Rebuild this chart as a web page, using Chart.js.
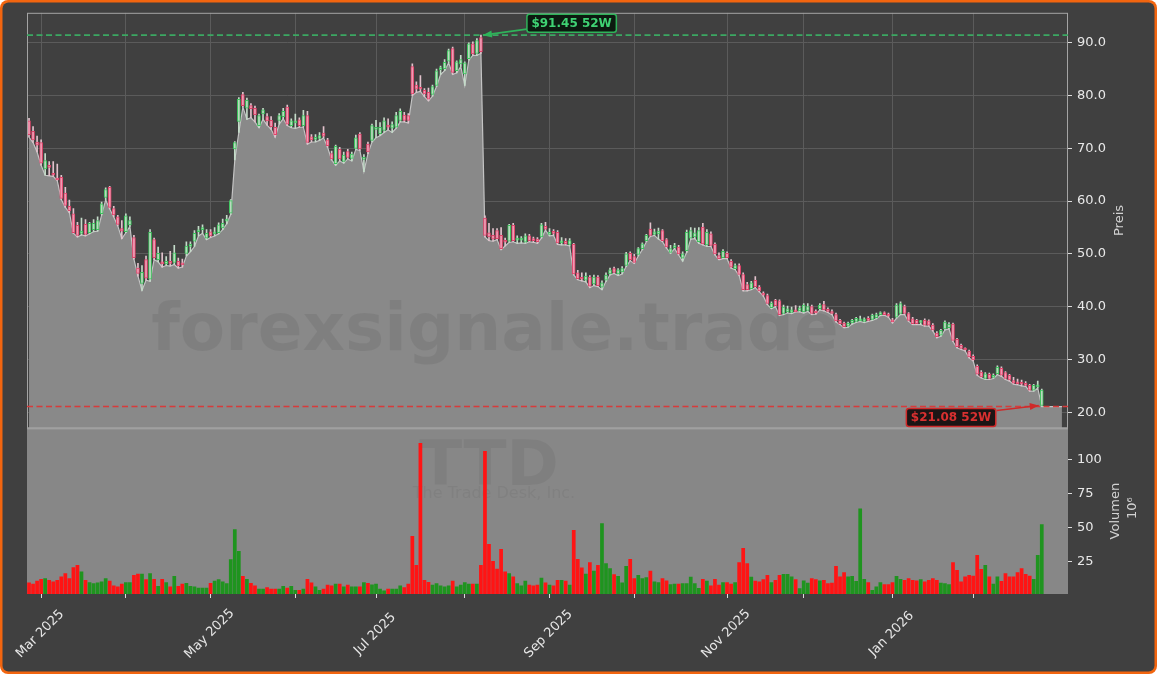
<!DOCTYPE html>
<html>
<head>
<meta charset="utf-8">
<script src="https://cdn.jsdelivr.net/npm/chart.js@4.4.1/dist/chart.umd.min.js"></script>
<style>
  html, body { margin: 0; padding: 0; background: #ffffff; }
  canvas { display: block; }
</style>
</head>
<body>
<canvas id="ttd-chart" width="1157" height="674"></canvas>
<script>
const firstDay = '2025-02-26';
const holidays = ['2025-04-18', '2025-05-26', '2025-06-19', '2025-07-04', '2025-09-01',
  '2025-11-27', '2025-12-25', '2026-01-01', '2026-01-19', '2026-02-16'];
const emptySlots = 6;

const opens = [
  75.2,73.2,71.2,71.1,66.1,66.6,65.2,64.2,64.5,61.5, 59.0,57.6,55.4,53.9,55.6,54.0,54.6,54.6,57.6,60.7,
  62.6,58.6,57.0,54.8,54.2,55.5,53.1,47.3,44.4,48.9, 45.2,52.7,48.9,48.3,48.1,48.5,48.4,48.6,48.3,50.1,
  51.4,52.4,54.2,54.6,53.0,54.2,53.8,54.0,54.9,56.2, 57.7,69.9,75.1,80.2,77.6,78.1,77.6,74.3,76.5,76.0,
  75.3,74.0,75.3,76.0,77.8,74.3,74.8,75.4,74.3,76.2, 72.2,71.7,71.9,72.9,71.6,69.0,67.1,69.8,67.5,69.4,
  68.1,70.0,72.7,67.9,70.8,71.5,73.6,72.8,73.4,74.4, 73.8,74.0,75.3,76.3,76.2,85.5,82.0,81.4,81.0,80.6,
  80.2,81.9,84.9,85.1,86.5,88.9,84.7,86.0,84.1,87.0, 89.8,88.0,91.0,56.8,54.0,53.5,54.4,53.5,52.5,52.4,
  55.4,52.6,52.6,52.2,53.4,52.7,52.8,53.2,55.2,53.7, 54.0,54.1,52.1,52.4,51.8,51.8,46.4,45.5,45.0,45.6,
  44.3,45.6,43.7,45.0,46.2,47.2,46.2,46.6,47.8,50.1, 49.5,49.9,51.0,52.5,54.7,53.7,53.8,54.4,52.7,50.3,
  51.2,51.3,49.2,50.6,53.0,53.2,52.3,55.1,51.7,53.8, 51.8,49.7,49.3,50.1,48.6,47.2,47.8,46.1,44.2,43.4,
  45.0,43.7,42.4,42.1,39.8,41.2,41.1,38.7,39.0,38.9, 39.4,39.2,39.0,39.3,40.0,38.9,39.6,40.4,39.4,39.0,
  38.5,37.4,36.9,36.3,36.9,37.2,37.3,37.2,37.6,37.6, 37.9,38.5,38.7,38.4,37.5,38.0,38.7,40.0,38.7,37.7,
  37.4,37.0,37.4,37.3,36.5,35.0,34.6,35.8,36.0,36.7, 33.8,32.7,31.9,31.6,30.6,28.7,27.6,26.4,27.2,26.6,
  27.3,28.3,27.5,27.0,26.0,25.7,25.5,25.2,25.1,24.2, 24.8,21.3
];
const highs = [
  75.7,74.1,72.3,71.6,69.0,67.5,67.5,67.0,64.9,62.6, 60.2,58.6,56.0,56.8,56.5,56.0,56.5,57.0,59.8,62.5,
  62.8,59.0,57.3,56.3,57.6,57.0,53.5,48.2,47.8,49.6, 54.6,53.0,51.3,50.2,49.5,50.5,51.6,49.2,49.0,52.3,
  52.3,54.4,55.2,55.5,54.6,54.6,55.0,55.9,56.6,57.3, 60.3,71.3,79.6,80.6,79.5,78.5,78.0,76.5,77.6,76.6,
  76.0,74.8,76.6,77.6,78.2,75.6,76.5,75.8,77.2,77.0, 72.6,72.6,73.0,74.1,71.9,69.5,70.6,70.2,69.3,69.8,
  69.3,72.5,73.0,68.8,71.2,74.6,75.3,74.9,75.8,75.6, 75.0,76.8,77.5,76.8,76.6,86.0,82.6,83.8,81.3,81.4,
  82.0,85.0,85.6,86.8,88.8,89.2,86.6,87.6,86.4,90.0, 90.2,90.8,91.45,57.2,55.8,54.8,54.8,55.0,53.0,55.6,
  55.8,53.4,53.3,53.8,53.7,53.2,53.1,55.8,56.0,54.8, 54.6,54.4,53.1,52.9,52.9,52.0,46.9,46.4,46.4,45.9,
  46.0,45.9,44.9,46.4,47.3,47.5,47.2,47.6,50.3,50.4, 49.9,51.2,52.1,53.7,55.9,54.7,54.9,54.6,52.9,51.6,
  52.0,51.6,50.4,54.5,55.0,54.9,55.0,55.8,54.6,54.2, 52.1,50.2,50.8,50.4,48.9,48.1,48.1,46.4,44.6,44.8,
  45.7,44.0,42.8,42.4,40.9,41.4,41.3,40.3,40.1,39.9, 40.2,40.1,40.6,40.6,40.3,39.4,40.6,41.0,39.8,39.4,
  38.8,37.6,37.1,37.1,37.6,38.0,38.2,37.9,38.1,38.6, 38.8,39.0,39.0,38.8,37.8,40.6,40.9,40.3,38.9,38.0,
  37.6,37.4,37.7,37.5,36.8,35.3,35.7,37.3,37.0,36.9, 34.0,32.9,32.2,31.8,30.9,29.0,27.9,27.5,27.4,27.3,
  28.8,28.6,27.7,27.2,26.6,26.3,26.1,25.8,25.3,25.3, 25.9,24.4
];
const lows = [
  72.1,71.1,69.3,66.8,64.9,64.8,64.7,63.9,60.3,58.8, 57.8,53.9,53.2,53.6,53.4,53.8,54.2,54.3,57.4,60.2,
  58.5,57.0,55.3,52.9,54.0,55.2,49.0,45.8,43.1,45.0, 44.8,48.9,48.5,47.5,47.8,47.7,48.0,47.3,47.5,49.6,
  50.4,51.4,53.4,53.9,52.7,53.1,53.4,53.8,54.6,55.7, 57.5,67.8,73.0,77.8,75.5,75.8,75.0,73.9,75.5,74.4,
  73.6,72.1,74.6,75.6,74.3,73.9,73.8,74.0,74.0,70.8, 71.2,71.2,71.5,72.0,70.2,67.8,66.8,67.6,67.2,68.0,
  67.6,69.8,69.6,65.6,69.0,71.2,72.0,72.4,73.0,73.5, 73.0,73.8,75.0,75.0,74.8,80.0,80.6,80.8,79.8,79.0,
  79.9,81.7,84.0,84.7,86.2,84.0,84.3,85.5,81.9,86.7, 87.6,87.6,88.0,53.2,52.5,52.4,52.7,50.8,51.5,52.2,
  52.3,52.0,52.1,52.0,52.3,52.2,52.0,53.0,54.5,53.4, 53.5,51.8,51.7,51.7,51.5,46.0,45.1,44.9,44.7,43.6,
  44.0,43.8,43.2,44.8,46.0,46.3,45.9,46.2,47.6,48.7, 48.2,49.6,50.8,52.3,53.3,53.5,52.8,52.3,51.1,50.1,
  51.0,49.8,48.6,50.3,52.8,52.9,52.0,51.7,51.4,51.4, 49.8,48.9,49.1,49.1,47.3,47.0,45.9,43.0,43.0,43.2,
  43.6,42.8,42.0,40.4,39.6,40.0,38.3,38.5,38.8,38.7, 39.0,39.0,38.8,39.1,38.5,38.6,39.4,39.2,38.9,38.5,
  37.1,36.6,36.0,36.1,36.7,37.0,37.2,37.0,37.2,37.4, 37.7,38.3,38.4,38.0,36.9,37.8,38.5,38.5,37.2,36.6,
  36.6,36.6,36.3,36.3,35.4,34.1,34.4,35.6,35.8,33.4, 32.2,31.9,31.6,30.3,29.7,27.0,26.5,26.2,26.2,26.4,
  27.1,26.8,26.2,25.9,25.3,25.2,25.0,24.9,24.0,24.0, 24.6,21.08
];
const closes = [
  72.6,71.6,70.6,67.2,67.7,66.4,64.9,64.0,60.5,59.2, 58.2,54.0,53.5,54.3,53.7,55.8,55.8,56.3,59.5,62.2,
  58.8,57.4,55.6,54.3,57.2,56.3,49.3,46.3,46.5,45.4, 54.1,49.3,50.1,48.1,48.6,48.2,50.2,47.7,47.9,51.5,
  51.8,53.9,54.5,55.0,53.9,53.4,54.2,55.5,55.8,56.6, 60.1,71.1,79.3,78.1,79.1,77.5,76.4,76.2,77.3,75.2,
  74.1,72.6,76.2,77.0,74.6,75.2,75.2,74.3,76.2,71.1, 71.6,71.9,72.4,72.3,70.5,68.0,70.4,68.0,68.7,68.3,
  68.9,72.0,69.9,68.2,69.3,74.3,74.0,74.0,75.2,74.0, 74.5,76.2,77.0,75.3,75.3,80.3,81.2,81.2,80.3,79.3,
  81.7,84.7,85.2,86.3,88.5,84.4,86.4,86.8,86.2,89.8, 87.9,90.4,88.3,53.5,53.2,52.8,52.9,51.0,52.2,55.4,
  52.5,52.9,52.7,53.4,52.5,52.5,52.3,55.5,54.7,54.1, 53.9,52.1,52.4,51.9,52.5,46.2,45.3,45.2,45.8,43.9,
  45.6,44.0,44.5,46.0,47.0,46.5,47.0,47.2,50.0,48.9, 48.4,51.0,51.9,53.5,53.5,54.2,54.3,52.5,51.3,51.0,
  51.4,50.0,50.0,54.1,54.4,54.0,54.4,51.9,54.1,51.6, 50.0,49.1,50.5,49.3,47.5,47.8,46.1,43.2,43.2,44.5,
  43.8,43.0,42.2,40.6,40.7,40.2,38.5,39.9,39.6,39.4, 39.0,39.8,40.3,40.0,38.7,38.8,40.3,39.4,39.1,38.7,
  37.3,36.8,36.2,36.9,37.4,37.8,37.6,37.7,37.4,38.4, 38.5,38.6,38.5,38.2,37.1,40.3,40.6,38.7,37.4,36.8,
  36.8,37.2,36.5,36.5,35.6,34.3,35.5,37.1,36.7,33.6, 32.4,32.1,31.8,30.5,29.9,27.2,26.7,27.3,26.4,26.9,
  28.5,27.0,26.4,26.1,25.5,25.4,25.3,25.1,24.2,25.1, 25.0,24.2
];
// millions of shares
const volumes = [
  10,9,11.2,12.6,13.1,11.9,10.7,11.9,14.3,16.8, 13.1,21.1,22.8,18,11.9,10.2,9.5,10,10.7,13.1,
  11.2,7.8,7.1,9,10.2,10.2,15.5,16.3,16.3,12.4, 16.8,12.6,7.5,12.6,10.2,7.1,14.8,7.5,9,9.7,
  7.5,7.1,6.1,6.1,6.1,9.7,11.2,12.4,10.7,9.5, 26.9,48.8,33,14.8,12.6,9.7,7.8,5.4,5.4,6.6,
  5.4,5.4,5.4,7.5,6.1,7.5,4.6,4.6,5.4,12.6, 10,7.1,4.6,5.4,8.3,7.8,9,9,7.1,8.3,
  7.1,7.1,7.1,10.2,9.7,8.5,9,5.4,4.1,5.4, 5.4,5.4,7.8,6.6,9,43.9,22.8,111.9,11.9,10.4,
  8.3,9.5,7.8,7.1,7.8,11.2,7.1,8.3,10.2,9, 9,9,22.8,106,38.1,25.7,20,34.5,18,16.8,
  14.3,9.5,7.8,11.2,8.3,7.8,8.3,13.4,10,8.3, 7.8,11.9,11.9,11.2,8.3,48.3,27.2,20.9,16.3,24.8,
  18.5,22.8,53.2,24,20.4,16,14.8,10,22.1,27.2, 13.1,15.5,13.1,13.9,18.5,10.7,10.2,13.1,11.4,8.8,
  9,9,9.5,9.5,14.1,9.5,5.9,12.6,11.2,7.8, 12.6,8.3,10.2,10.2,9,10.2,24.8,35.2,24,14.1,
  11.2,10.7,12.4,15.5,10.2,11.9,15.5,16.2,16.2,14.3, 12.4,5.8,11.4,9.9,13.1,12.4,11.4,11.9,9.4,9.9,
  22,14.3,17.5,14.3,14.8,11.1,64,12.6,10.2,4.6, 7,10.2,8.7,8.7,10.2,14.8,12.6,11.9,13.1,11.9,
  11.4,12.4,10.7,11.9,13.1,11.9,9.9,9.4,8.7,24.7, 19.2,10.7,14.3,15.5,15,30.1,19.9,22.8,14.3,9,
  14.3,11.1,16.7,14.3,14.3,17.5,20.4,16.2,15,12.6, 30.1,52.6
];
// the shaded low line runs on a little past the last session
const tailLows = [21.08, 21.08, 21.08, 21.08, 21.08];

const priceTicks = [20, 30, 40, 50, 60, 70, 80, 90];
const volumeTicks = [25, 50, 75, 100];
const monthNames = ['Jan', 'Feb', 'Mar', 'Apr', 'May', 'Jun', 'Jul', 'Aug', 'Sep', 'Oct', 'Nov', 'Dec'];

function tradingDays(start, count) {
  const out = [];
  const d = new Date(start + 'T00:00:00Z');
  while (out.length < count) {
    const iso = d.toISOString().slice(0, 10);
    const wd = d.getUTCDay();
    if (wd !== 0 && wd !== 6 && !holidays.includes(iso)) out.push(iso);
    d.setUTCDate(d.getUTCDate() + 1);
  }
  return out;
}

const labels = tradingDays(firstDay, opens.length + emptySlots);
const monthStarts = [];
for (let i = 1; i < opens.length; i++) {
  if (labels[i].slice(5, 7) !== labels[i - 1].slice(5, 7)) monthStarts.push(i);
}

const hi52 = Math.max(...highs);
const lo52 = Math.min(...lows);
const hiIdx = highs.indexOf(hi52);
const loIdx = lows.indexOf(lo52);

const up = opens.map((o, i) => closes[i] >= o);
const wickColors = up.map(u => u ? '#c4dcc9' : '#e2c2cc');
const bodyFill = up.map(u => u ? '#bcd8c0' : '#ef9bb4');
const bodyLine = up.map(u => u ? '#3cc35c' : '#e0446a');
const volColors = up.map(u => u ? '#1f941f' : '#ff1414');

function drawLevel(ctx, area, py, color) {
  ctx.save();
  ctx.strokeStyle = color;
  ctx.lineWidth = 1.6;
  ctx.setLineDash([6, 3.5]);
  ctx.beginPath();
  ctx.moveTo(area.left, py);
  ctx.lineTo(area.right, py);
  ctx.stroke();
  ctx.restore();
}

function drawTag(ctx, text, bx, by, alignRight, colors, ax, ay, tx, ty) {
  ctx.save();
  ctx.font = 'bold 12px "DejaVu Sans"';
  const w = ctx.measureText(text).width + 9;
  const h = 18;
  const left = alignRight ? bx - w : bx;
  // arrow
  ctx.strokeStyle = colors.line;
  ctx.fillStyle = colors.line;
  ctx.lineWidth = 1.6;
  ctx.beginPath();
  ctx.moveTo(ax, ay);
  ctx.lineTo(tx, ty);
  ctx.stroke();
  const ang = Math.atan2(ty - ay, tx - ax);
  ctx.beginPath();
  ctx.moveTo(tx, ty);
  ctx.lineTo(tx - 9 * Math.cos(ang) + 3.5 * Math.sin(ang), ty - 9 * Math.sin(ang) - 3.5 * Math.cos(ang));
  ctx.lineTo(tx - 9 * Math.cos(ang) - 3.5 * Math.sin(ang), ty - 9 * Math.sin(ang) + 3.5 * Math.cos(ang));
  ctx.closePath();
  ctx.fill();
  // box
  ctx.fillStyle = colors.bg;
  ctx.lineWidth = 1.5;
  ctx.beginPath();
  ctx.roundRect(left, by, w, h, 2.5);
  ctx.fill();
  ctx.stroke();
  ctx.fillStyle = colors.text;
  ctx.textAlign = 'center';
  ctx.textBaseline = 'middle';
  ctx.fillText(text, left + w / 2, by + h / 2 + 0.5);
  ctx.restore();
}

const chartDecor = {
  id: 'chartDecor',
  beforeDraw(chart) {
    const { ctx, width, height } = chart;
    ctx.save();
    ctx.fillStyle = '#ffffff';
    ctx.fillRect(0, 0, width, height);
    ctx.fillStyle = '#f2650f';
    ctx.beginPath();
    ctx.roundRect(0, 0, width, height, 8);
    ctx.fill();
    ctx.fillStyle = '#404040';
    ctx.beginPath();
    ctx.roundRect(2.5, 2.5, width - 5, height - 5, 6);
    ctx.fill();
    ctx.restore();
  },
  beforeDatasetsDraw(chart) {
    const { ctx, chartArea } = chart;
    const vol = chart.scales.vol;
    ctx.save();
    ctx.fillStyle = '#878787';
    ctx.fillRect(chartArea.left, vol.top, chartArea.right - chartArea.left, vol.bottom - vol.top);
    ctx.restore();
  },
  afterDatasetDraw(chart, args) {
    if (args.index !== 0) return;
    const { ctx } = chart;
    const y = chart.scales.y;
    const vol = chart.scales.vol;
    ctx.save();
    ctx.textAlign = 'center';
    ctx.textBaseline = 'alphabetic';
    ctx.fillStyle = 'rgba(0,0,0,0.065)';
    ctx.font = 'bold 66px "DejaVu Sans"';
    ctx.fillText('forexsignale.trade', 495, y.bottom - 78);
    ctx.fillStyle = 'rgba(0,0,0,0.06)';
    ctx.font = 'bold 63px "DejaVu Sans"';
    ctx.fillText('TTD', 489, vol.top + 57);
    ctx.fillStyle = 'rgba(0,0,0,0.05)';
    ctx.font = '16px "DejaVu Sans"';
    ctx.fillText('The Trade Desk, Inc.', 494, vol.top + 70);
    ctx.restore();
  },
  afterDatasetsDraw(chart) {
    const { ctx, chartArea } = chart;
    const x = chart.scales.x;
    const y = chart.scales.y;
    const vol = chart.scales.vol;

    ctx.save();
    ctx.strokeStyle = '#a4a4a4';
    ctx.lineWidth = 1;
    ctx.strokeRect(chartArea.left + 0.5, y.top + 0.5, chartArea.right - chartArea.left - 1, y.bottom - y.top);
    ctx.fillStyle = '#a0a0a0';
    ctx.fillRect(chartArea.left, y.bottom - 1, chartArea.right - chartArea.left, 2);
    ctx.restore();

    const hiY = y.getPixelForValue(hi52);
    const loY = y.getPixelForValue(lo52);
    drawLevel(ctx, chartArea, hiY, '#3ba862');
    drawLevel(ctx, chartArea, loY, '#d83b3b');

    const hiX = x.getPixelForValue(hiIdx);
    const loX = x.getPixelForValue(loIdx);
    drawTag(ctx, '$' + hi52.toFixed(2) + ' 52W', hiX + 46, hiY - 21, false,
      { bg: '#0c1a10', line: '#2fb35a', text: '#3fd273' }, hiX + 46, hiY - 6, hiX + 2, hiY);
    drawTag(ctx, '$' + lo52.toFixed(2) + ' 52W', loX - 46, loY + 2, true,
      { bg: '#1c1515', line: '#cf2a2a', text: '#d83030' }, loX - 45, loY + 4, loX - 3, loY - 1);

    ctx.save();
    ctx.fillStyle = '#e6e6e6';
    ctx.font = '13px "DejaVu Sans"';
    ctx.textAlign = 'center';
    ctx.textBaseline = 'middle';
    monthStarts.forEach(i => {
      const m = parseInt(labels[i].slice(5, 7), 10) - 1;
      if (m % 2 !== 0) return;
      const text = monthNames[m] + ' ' + labels[i].slice(0, 4);
      ctx.save();
      ctx.translate(x.getPixelForValue(i) - 1, chartArea.bottom + 40);
      ctx.rotate(-Math.PI / 4);
      ctx.fillText(text, 0, 0);
      ctx.restore();
    });

    ctx.fillStyle = '#d2d2d2';
    const title = (text, tx, ty) => {
      ctx.save();
      ctx.translate(tx, ty);
      ctx.rotate(-Math.PI / 2);
      ctx.fillText(text, 0, 0);
      ctx.restore();
    };
    title('Preis', chartArea.right + 52, (y.top + y.bottom) / 2);
    title('Volumen', chartArea.right + 48, (vol.top + vol.bottom) / 2);
    title('10\u2076', chartArea.right + 65, (vol.top + vol.bottom) / 2 - 3);
    ctx.restore();
  }
};

Chart.defaults.font.family = '"DejaVu Sans"';

const ctx = document.getElementById('ttd-chart').getContext('2d');
new Chart(ctx, {
  type: 'bar',
  data: {
    labels: labels,
    datasets: [{
      type: 'line',
      label: 'Tief',
      data: lows.concat(tailLows),
      yAxisID: 'y',
      borderColor: '#c4c4c4',
      borderWidth: 1.2,
      backgroundColor: '#898989',
      fill: 'start',
      pointRadius: 0,
      tension: 0,
      order: 10
    }, {
      label: 'Docht',
      data: lows.map((l, i) => [l, highs[i]]),
      yAxisID: 'y',
      backgroundColor: wickColors,
      barThickness: 1,
      grouped: false,
      order: 3
    }, {
      label: 'Kerze',
      data: opens.map((o, i) => [o, closes[i]]),
      yAxisID: 'y',
      backgroundColor: bodyFill,
      borderColor: bodyLine,
      borderWidth: 1,
      borderSkipped: false,
      barThickness: 3,
      minBarLength: 2,
      grouped: false,
      order: 2
    }, {
      label: 'Volumen',
      data: volumes,
      yAxisID: 'vol',
      backgroundColor: volColors,
      barPercentage: 0.92,
      categoryPercentage: 1,
      grouped: false,
      order: 5
    }]
  },
  options: {
    responsive: false,
    animation: false,
    layout: { padding: { left: 27, top: 12, right: 0, bottom: 0 } },
    plugins: {
      legend: { display: false },
      tooltip: { enabled: false }
    },
    scales: {
      x: {
        type: 'category',
        offset: true,
        grid: { offset: false, color: '#5b5b5b', tickColor: '#dcdcdc', tickLength: 4 },
        border: { display: false },
        ticks: { display: false, autoSkip: false },
        afterBuildTicks: (scale) => { scale.ticks = monthStarts.map(v => ({ value: v })); },
        afterFit: (scale) => { scale.height = 80; }
      },
      y: {
        type: 'linear',
        position: 'right',
        stack: 'panes',
        stackWeight: 416,
        min: 16.97,
        max: 95.68,
        grid: { color: '#5b5b5b', tickColor: '#dcdcdc', tickLength: 4 },
        border: { display: false },
        ticks: {
          color: '#e8e8e8',
          font: { size: 13 },
          padding: 5,
          callback: (v) => Number(v).toFixed(1)
        },
        afterBuildTicks: (scale) => { scale.ticks = priceTicks.map(v => ({ value: v })); },
        afterFit: (scale) => { scale.width = 89; }
      },
      vol: {
        type: 'linear',
        position: 'right',
        stack: 'panes',
        stackWeight: 166,
        min: 1.6,
        max: 122.6,
        grid: { drawOnChartArea: false, tickColor: '#dcdcdc', tickLength: 4 },
        border: { display: false },
        ticks: {
          color: '#e8e8e8',
          font: { size: 13 },
          padding: 5,
          callback: (v) => v
        },
        afterBuildTicks: (scale) => { scale.ticks = volumeTicks.map(v => ({ value: v })); },
        afterFit: (scale) => { scale.width = 89; }
      }
    }
  },
  plugins: [chartDecor]
});
</script>
</body>
</html>
